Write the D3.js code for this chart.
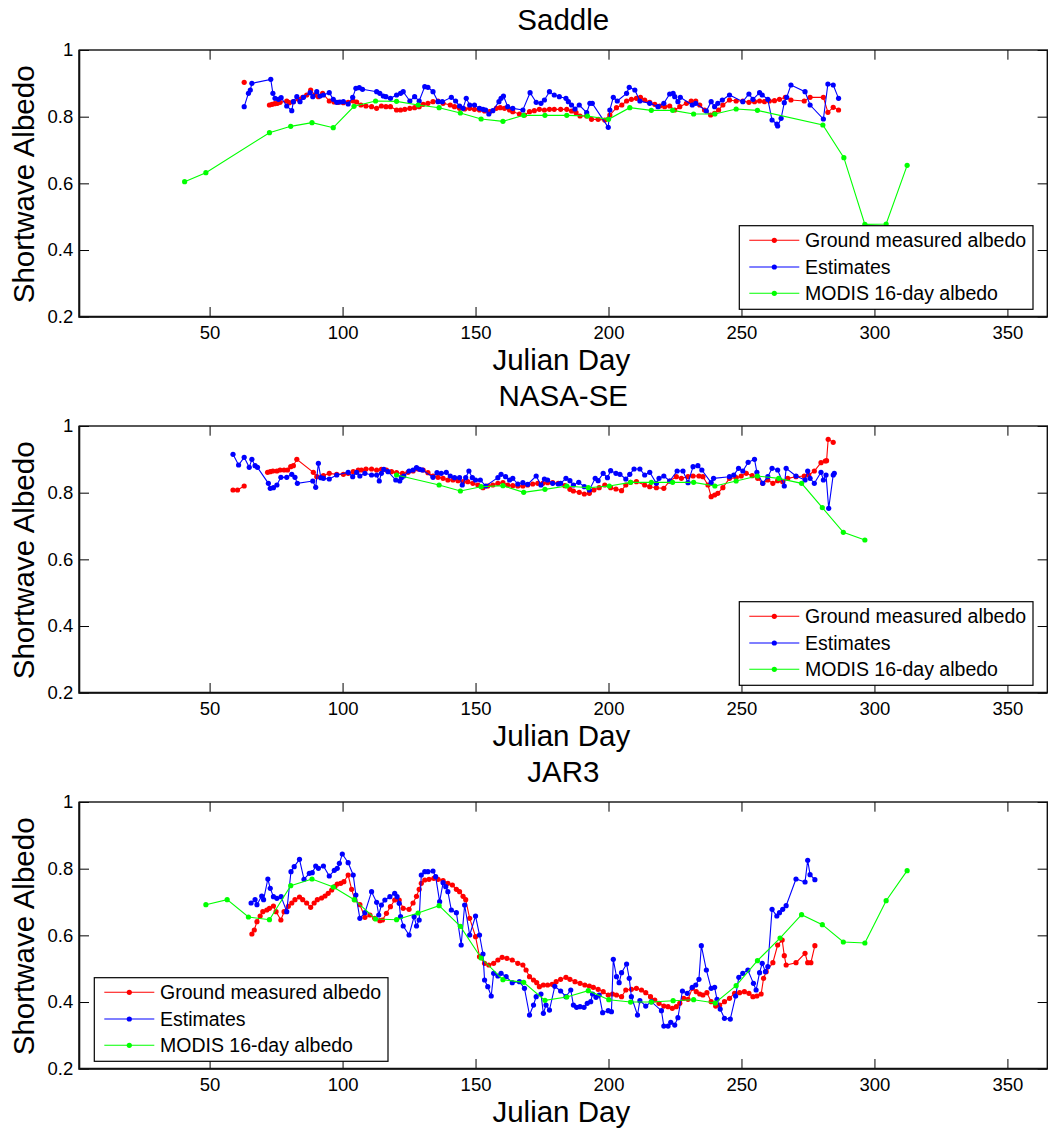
<!DOCTYPE html>
<html>
<head>
<meta charset="utf-8">
<script src="https://cdn.jsdelivr.net/npm/d3@7"></script>
<style>
  body { margin: 0; background: #fff; }
  svg { display: block; font-family: "Liberation Sans", Arial, sans-serif; }
</style>
</head>
<body>
<svg id="chart" width="1048" height="1133"></svg>
<script>
// axis ticks and labels
const dayTicks = [50, 100, 150, 200, 250, 300, 350];
const albedoTicks = [0.2, 0.4, 0.6, 0.8, 1];
const siteNames = ["Saddle", "NASA-SE", "JAR3"];
const seriesNames = ["Ground measured albedo", "Estimates", "MODIS 16-day albedo"];

// Saddle: [julian day, albedo], null = gap
const saddleGround = [[63,0.903],[67,null],
  [72.5,0.835],[73.5,0.837],[74.5,0.839],[75.5,0.84],[76.5,0.843],[79,0.847],[80,0.842],[81.5,0.845],[83.4,0.852],[85,0.858],[86.5,0.865],[88,0.88],[89.6,0.865],[90.9,0.86],[92.5,0.87],[95,0.847],[96.8,0.844],[98.4,0.843],[100.3,0.842],[102.1,0.843],[104,0.847],[105.3,0.844],[106.9,0.835],[108.8,0.832],[110.9,0.83],[112.8,0.825],[114.6,0.832],[116.3,0.83],[118,0.83],[120.3,0.82],[121.8,0.82],[123.4,0.822],[125.3,0.825],[127.1,0.827],[128.8,0.83],[130.3,0.837],[132.1,0.84],[134,0.845],[135.9,0.847],[137.8,0.84],[140.5,0.835],[142.1,0.83],[144,0.825],[145.9,0.823],[147.8,0.825],[149.6,0.822],[151.5,0.82],[153.4,0.817],[155.3,0.815],[157.8,0.825],[159.3,0.827],[160.9,0.825],[162.8,0.82],[164,0.815],[166.5,0.808],[168.4,0.805],[170.3,0.815],[172.1,0.818],[174,0.822],[175.9,0.82],[177.8,0.822],[179.6,0.822],[182,0.822],
  [184.3,0.822],[186.1,0.817],[187.8,0.812],[189.3,0.802],[191.8,0.802],[193.6,0.792],[196.1,0.792],[198.6,0.79],[200.5,0.805],[203,0.827],[205,0.835],[206.8,0.847],[208.6,0.852],[210.5,0.855],[212,0.858],[213.6,0.85],[215.5,0.843],[217.4,0.837],[219.3,0.832],[221.1,0.83],[223,0.832],[224.9,0.82],[226.8,0.83],[229.3,0.84],[231.1,0.847],[232.8,0.847],[234.3,0.835],[236.1,0.82],[238.4,0.805],[239.9,0.81],[241.4,0.82],[243,0.835],[245.5,0.85],[248,0.847],[250.5,0.847],[252.8,0.843],[254.9,0.845],[256.8,0.847],[258.6,0.845],[260.5,0.847],[262.4,0.848],[264.3,0.852],[266.5,0.858],[268.6,0.85],[273.6,0.847],[275.8,0.858],[280.8,0.858],[282.5,0.813],[284.5,0.828],[286.5,0.82]];

const saddleEstimates = [[63,0.83],[64.6,0.87],[65.3,0.88],[65.9,0.9],[73,0.912],[73.8,0.87],[74.6,0.855],[75.9,0.852],[76.9,0.857],[79,0.832],[80.9,0.818],[81.5,0.845],[82.8,0.86],[84,0.845],[85.3,0.858],[87.8,0.872],[88.8,0.86],[90.3,0.875],[91.5,0.862],[92.8,0.865],[95,0.872],[96.5,0.852],[97.8,0.843],[99,0.844],[100.3,0.845],[102.1,0.838],[103.8,0.858],[105,0.885],[106.3,0.887],[107.5,0.882],[112.8,0.875],[114,0.87],[115.3,0.862],[116.3,0.86],[118,0.855],[120.3,0.865],[121.8,0.87],[122.8,0.875],[125.3,0.847],[127.1,0.86],[128.8,0.847],[130.9,0.89],[132.1,0.888],[134,0.875],[135.9,0.845],[137.5,0.845],[140.9,0.858],[142.5,0.847],[144,0.832],[145.3,0.825],[146.5,0.855],[147.8,0.835],[149.6,0.835],[151.5,0.825],[152.8,0.822],[153.8,0.82],[155,0.808],[156.5,0.818],[158.8,0.845],[159.6,0.855],[160.5,0.862],[162.1,0.83],[164,0.825],[167.8,0.82],[170.5,0.872],[172.8,0.843],[174.6,0.84],[175.9,0.85],[177.8,0.875],[179.6,0.865],[181.5,0.86],
  [184,0.855],[184.9,0.845],[186.1,0.835],[187.4,0.823],[189,0.835],[191.8,0.812],[193,0.84],[193.9,0.84],[199.9,0.768],[200.5,0.82],[201.8,0.858],[203.3,0.847],[206.8,0.87],[207.8,0.888],[209.9,0.88],[211.8,0.847],[215.5,0.84],[218.6,0.83],[220.8,0.84],[223,0.868],[224.3,0.87],[224.9,0.86],[226.1,0.845],[227,0.858],[231.5,0.835],[232.8,0.84],[236.8,0.817],[238.6,0.845],[239.9,0.83],[241.1,0.84],[242.8,0.85],[245.5,0.865],[250.5,0.845],[252.8,0.868],[254.3,0.852],[256.8,0.872],[257.8,0.865],[259.9,0.852],[261.5,0.79],[263.3,0.778],[263.6,0.772],[264.9,0.795],[266.1,0.842],[267,0.858],[268.6,0.895],[273.9,0.875],[275.8,0.835],[280.8,0.793],[282.5,0.898],[284.5,0.895],[286.5,0.855]];

const saddleModis = [[40.6,0.605],[48.6,0.632],[72.5,0.752],[80.5,0.771],[88.5,0.782],[96.5,0.767],[104.3,0.831],[112.4,0.847],[120.3,0.846],[128.4,0.835],[136.3,0.827],[144.3,0.811],[152.1,0.793],[160.3,0.786],[168.1,0.804],[176.1,0.804],[184.3,0.804],[192.1,0.802],[200,0.792],[208,0.827],[216.1,0.819],[224.1,0.819],[232,0.808],[240,0.808],[248,0.823],[256,0.819],[280.6,0.775],[288.5,0.677],[296.4,0.477],[304.4,0.478],[312.3,0.654]];

// NASA-SE
const nasaGround = [[58.8,0.808],[60.5,0.808],[63,0.82],[67,null],
  [71.8,0.861],[72.8,0.863],[73.8,0.865],[75.3,0.865],[76.5,0.868],[78,0.868],[79.3,0.868],[80.5,0.878],[81.5,0.881],[82.8,0.9],[89,0.861],[90.3,0.848],[92.8,0.851],[95,0.858],[97.8,0.855],[100.3,0.855],[102.1,0.858],[104,0.863],[105.9,0.868],[107.1,0.868],[108.8,0.871],[110.9,0.871],[112.8,0.868],[114.6,0.87],[116.5,0.868],[118.4,0.863],[120.3,0.86],[122.5,0.858],[124.6,0.861],[126.5,0.865],[128.4,0.871],[130.3,0.868],[132.1,0.86],[134,0.85],[135.9,0.846],[137.8,0.843],[139.6,0.838],[141.5,0.838],[143.4,0.836],[145.3,0.833],[147.1,0.833],[149,0.828],[150.9,0.823],[152.8,0.815],[154.6,0.82],[156.5,0.823],[158.4,0.828],[160.3,0.83],[162.1,0.823],[164,0.821],[165.9,0.82],[167.8,0.82],[169.6,0.823],[171.5,0.826],[173.4,0.828],[175.3,0.828],[177.1,0.83],[179,0.83],[181.1,0.828],[183.6,0.821],[185.5,0.81],[186.8,0.805],[189,0.801],[190.9,0.796],[192.8,0.798],[194.5,0.808],[196.5,0.815],[198.6,0.823],[200.8,0.815],[202.8,0.811],[204.9,0.806],[206.5,0.823],[208.3,0.831],[210.5,0.833],[213.6,0.823],[215.5,0.818],[218,0.815],[220.8,0.813],[223,0.835],[225.5,0.848],[227.4,0.843],[229.9,0.848],[231.8,0.85],[234,0.85],[235.5,0.848],[237.4,0.823],[238.6,0.788],[239.9,0.793],[241.1,0.798],[243,0.815],[245.5,0.843],[248,0.845],[249.9,0.85],[251.8,0.858],[254,0.851],[256.1,0.843],[258,0.828],[259.9,0.838],[261.8,0.828],[263.6,0.836],[265.5,0.833],[267.4,0.843],[270.5,0.848],[273.6,0.85],[275.3,0.853],[277.4,0.865],[279.9,0.89],[281.5,0.895],[282,0.896],[282.6,0.96],[284.5,0.951]];

const nasaEstimates = [[58.8,0.915],[60.9,0.883],[63,0.906],[64.9,0.876],[65.9,0.9],[67.1,0.881],[68,0.876],[72.1,0.828],[72.8,0.813],[74,0.815],[75.3,0.823],[76.8,0.846],[79,0.846],[80.9,0.855],[82.1,0.846],[83,0.828],[88.8,0.835],[89.9,0.816],[90.9,0.888],[91.8,0.845],[92.8,0.843],[95,0.841],[97.8,0.853],[102.1,0.861],[103.8,0.848],[105.3,0.861],[106.5,0.85],[108.4,0.858],[110.9,0.853],[112.8,0.853],[113.8,0.835],[114.6,0.858],[115.5,0.87],[117.1,0.863],[120,0.838],[121.5,0.835],[122.1,0.845],[123,0.85],[125,0.865],[126.5,0.868],[127.8,0.875],[129,0.87],[130,0.868],[134,0.846],[135.5,0.86],[137.1,0.858],[139,0.861],[140.5,0.85],[142.1,0.845],[144,0.845],[145,0.823],[146.3,0.845],[147.5,0.865],[148.8,0.845],[150,0.838],[151.8,0.838],[153.8,0.82],[158.4,0.845],[159.6,0.855],[161.3,0.848],[162.8,0.838],[164,0.843],[165.9,0.826],[167.8,0.83],[169.6,0.825],[172.8,0.85],[174.6,0.823],[175.9,0.841],[177.1,0.838],[179,0.828],[181.1,0.826],[182,0.828],[184,0.843],[185.5,0.836],[186.8,0.823],[188.8,0.831],[190.9,0.818],[192.8,0.808],[195,0.843],[196.1,0.836],[198,0.858],[199.6,0.845],[200.8,0.866],[202.8,0.858],[204.3,0.855],[206.5,0.841],[208,0.855],[209.6,0.871],[211.8,0.871],[213.6,0.853],[215.5,0.861],[218,0.828],[219,0.843],[220.8,0.85],[223,0.835],[225.8,0.865],[228,0.865],[229.9,0.83],[231.8,0.878],[233.6,0.881],[235.1,0.868],[238.6,0.83],[239.5,0.843],[245.5,0.848],[247.1,0.853],[248.9,0.873],[250.5,0.865],[252.5,0.891],[254.9,0.9],[255.8,0.861],[258,0.828],[259.9,0.848],[261.5,0.873],[263.6,0.868],[266.1,0.82],[266.8,0.873],[270.5,0.85],[273.9,0.838],[274.9,0.865],[275.8,0.843],[277.4,0.828],[279.9,0.861],[280.8,0.838],[281.8,0.853],[282.8,0.753],[284.5,0.853],[284.9,0.858]];

const nasaModis = [[120.3,0.853],[136.3,0.823],[144.3,0.805],[152.1,0.818],[160.3,0.821],[168.1,0.801],[176.1,0.81],[184.3,0.82],[192.4,0.815],[200.3,0.82],[208.3,0.831],[216.1,0.831],[224.1,0.831],[232,0.831],[240,0.82],[248,0.835],[256,0.85],[264,0.843],[272.6,0.828],[280.4,0.755],[288.3,0.681],[296.4,0.658]];

// JAR3
const jarGround = [[65.9,0.604],[66.8,0.616],[67.8,0.641],[69,0.658],[70,0.671],[71.5,0.676],[72.5,0.681],[74,0.688],[75,0.671],[76.8,0.646],[78,0.671],[79.6,0.687],[80.9,0.697],[82.1,0.707],[83.8,0.715],[85,0.707],[86.5,0.697],[88,0.684],[89.3,0.697],[90.5,0.707],[92.1,0.712],[93.4,0.718],[94.6,0.726],[95.9,0.736],[97.1,0.746],[98,0.754],[99.3,0.756],[100.5,0.761],[102.1,0.781],[103.4,0.738],[104.6,0.707],[106.5,0.692],[108.4,0.654],[110.3,0.661],[112.1,0.651],[114,0.644],[115,0.646],[116.5,0.666],[118,0.686],[119.6,0.706],[121.3,0.706],[122.8,0.681],[125,0.678],[126.5,0.697],[127.8,0.717],[128.8,0.738],[129.6,0.756],[130.9,0.766],[132.5,0.768],[134.3,0.771],[135.9,0.768],[137.8,0.764],[139.6,0.756],[141.3,0.751],[142.8,0.738],[144,0.731],[145.3,0.717],[146.3,0.707],[147.8,0.651],[150,0.596],[151.5,0.536],[153.4,0.516],[155,0.511],[156.8,0.516],[158.4,0.526],[160,0.534],[161.8,0.531],[163.8,0.526],[165.9,0.516],[167.8,0.511],[169,0.496],[170.3,0.476],[171.8,0.466],[173,0.458],[174,0.446],[175.5,0.451],[177.1,0.451],[178.8,0.453],[180.3,0.461],[182,0.468],[184,0.474],[185.5,0.468],[187.4,0.461],[189.3,0.456],[191.1,0.451],[192.8,0.448],[194.3,0.444],[196.1,0.438],[198,0.431],[199.9,0.421],[201.5,0.424],[203,0.421],[204.9,0.416],[206.5,0.436],[208.6,0.438],[210.5,0.441],[212.4,0.436],[214,0.428],[215.8,0.416],[217.4,0.406],[219,0.396],[220.8,0.388],[222.4,0.386],[224,0.381],[225.5,0.386],[226.8,0.396],[228.3,0.411],[229.9,0.408],[231.5,0.441],[233,0.431],[234.3,0.424],[235.5,0.421],[237,0.428],[238.6,0.401],[240.3,0.388],[241.8,0.391],[243.6,0.401],[245.5,0.411],[247.4,0.426],[249.3,0.428],[251.1,0.431],[252.8,0.426],[254.3,0.416],[255.8,0.418],[257.4,0.424],[258.3,0.471],[259.3,0.491],[261.8,0.518],[263.6,0.571],[265.3,0.586],[266.1,0.539],[266.8,0.511],[270.5,0.518],[273.9,0.546],[274.9,0.518],[276.1,0.518],[277.6,0.569]];

const jarEstimates = [[65.6,0.697],[67.1,0.707],[67.8,0.692],[69.6,0.718],[70.3,0.707],[71.9,0.769],[72.8,0.741],[74,0.716],[75.3,0.711],[76.9,0.716],[79,0.671],[80.6,0.791],[81.8,0.806],[83.8,0.828],[85.5,0.768],[87.5,0.786],[88.6,0.788],[89.9,0.808],[90.9,0.801],[92.8,0.808],[95,0.778],[96.9,0.795],[98,0.801],[98.8,0.816],[99.9,0.844],[102.1,0.818],[104,0.781],[105,0.721],[106.5,0.651],[108.4,0.668],[110.9,0.731],[112.8,0.699],[113.6,0.661],[114.6,0.691],[115.9,0.706],[117.8,0.716],[119.6,0.726],[120.5,0.716],[121.3,0.696],[121.8,0.656],[122.8,0.628],[125,0.601],[126.9,0.656],[127.8,0.628],[128.8,0.646],[129.6,0.781],[130.9,0.791],[132.1,0.791],[134,0.793],[135,0.776],[136.5,0.701],[137.8,0.758],[138.8,0.746],[139.6,0.731],[140.9,0.676],[142.8,0.668],[144.6,0.571],[145.9,0.691],[147.8,0.601],[150,0.658],[151.5,0.601],[152.8,0.544],[153.4,0.466],[154.6,0.446],[155.9,0.418],[156.8,0.486],[158.4,0.478],[159.6,0.486],[161.5,0.476],[163.8,0.458],[166.5,0.461],[168.4,0.441],[170.3,0.361],[171.8,0.391],[172.8,0.416],[174.6,0.424],[175.5,0.366],[176.5,0.391],[177.8,0.376],[179.8,0.447],[182,0.433],[184,0.416],[185.8,0.436],[186.8,0.391],[188,0.384],[189.3,0.386],[190.8,0.384],[192,0.396],[193.3,0.401],[194,0.424],[195.3,0.414],[196.5,0.421],[197.8,0.368],[199.9,0.374],[201.1,0.371],[201.8,0.528],[203,0.476],[204,0.458],[204.9,0.488],[206.8,0.514],[207.8,0.471],[208.6,0.416],[210.9,0.361],[211.8,0.404],[214,0.388],[216.1,0.401],[219.9,0.374],[220.8,0.328],[222.4,0.328],[223.4,0.339],[224.9,0.331],[226.1,0.353],[227.8,0.433],[229.6,0.426],[231.5,0.444],[232.8,0.451],[234,0.468],[234.9,0.569],[236.8,0.496],[238.6,0.441],[239.9,0.444],[240.8,0.408],[242,0.379],[243.6,0.351],[245.8,0.349],[247.8,0.418],[249,0.474],[250.5,0.486],[252.4,0.496],[254.5,0.456],[255.5,0.436],[256.8,0.488],[257.8,0.516],[259,0.491],[259.9,0.506],[261.5,0.678],[263.3,0.658],[264.3,0.668],[265.5,0.678],[266.8,0.689],[270.5,0.769],[273.9,0.76],[274.9,0.825],[275.8,0.782],[277.6,0.767]];

const jarModis = [[48.6,0.692],[56.6,0.707],[64.6,0.655],[72.5,0.647],[80.5,0.749],[88.5,0.769],[96.5,0.745],[104.4,0.707],[112.4,0.649],[120.3,0.647],[128.4,0.667],[136.3,0.689],[144.3,0.627],[152.1,0.532],[160.3,0.467],[168.1,0.459],[176.1,0.405],[184.3,0.415],[192.4,0.434],[200.1,0.407],[208.3,0.4],[216.1,0.4],[224.3,0.404],[232,0.407],[240.1,0.397],[248,0.449],[256,0.524],[264.5,0.592],[272.6,0.662],[280.4,0.632],[288.3,0.58],[296.4,0.577],[304.4,0.704],[312.3,0.794]];

const colors = ["#ff0000", "#0000ff", "#00ff00"];

// panel layout
const panels = [
  { title: siteNames[0], series: [saddleGround, saddleEstimates, saddleModis], top: 50,  legend: [739.3, 225.7] },
  { title: siteNames[1], series: [nasaGround, nasaEstimates, nasaModis],       top: 426, legend: [739.3, 601.7] },
  { title: siteNames[2], series: [jarGround, jarEstimates, jarModis],          top: 802, legend: [94.3, 977.7] }
];
const left = 79.3, right = 1047.3, plotH = 266.7, tickLen = 9.7;

const svg = d3.select("#chart");
const x = d3.scaleLinear().domain([1, 365]).range([left, right]);

panels.forEach(p => {
  const y = d3.scaleLinear().domain([0.2, 1]).range([p.top + plotH, p.top]);
  const g = svg.append("g");

  // series: red, blue, green (green drawn last like the original)
  p.series.forEach((s, i) => {
    const line = d3.line()
      .defined(d => d[1] !== null)
      .x(d => x(d[0]))
      .y(d => y(d[1]));
    g.append("path")
      .datum(s)
      .attr("d", line)
      .attr("fill", "none")
      .attr("stroke", colors[i])
      .attr("stroke-width", 1.1);
    g.selectAll(null)
      .data(s.filter(d => d[1] !== null))
      .enter().append("circle")
      .attr("cx", d => x(d[0]))
      .attr("cy", d => y(d[1]))
      .attr("r", 2.6)
      .attr("fill", colors[i]);
  });

  // axes with inward ticks on all four sides
  const bottom = g.append("g")
    .attr("transform", `translate(0,${p.top + plotH})`)
    .call(d3.axisBottom(x).tickValues(dayTicks).tickSize(-tickLen).tickSizeOuter(0).tickPadding(9.5));
  const topAx = g.append("g")
    .attr("transform", `translate(0,${p.top})`)
    .call(d3.axisTop(x).tickValues(dayTicks).tickSize(-tickLen).tickSizeOuter(0));
  const leftAx = g.append("g")
    .attr("transform", `translate(${left},0)`)
    .call(d3.axisLeft(y).tickValues(albedoTicks).tickSize(-tickLen).tickSizeOuter(0).tickPadding(6).tickFormat(d3.format("")));
  const rightAx = g.append("g")
    .attr("transform", `translate(${right},0)`)
    .call(d3.axisRight(y).tickValues(albedoTicks).tickSize(-tickLen).tickSizeOuter(0));
  [topAx, rightAx].forEach(a => a.selectAll("text").remove());
  [bottom, topAx, leftAx, rightAx].forEach(a => {
    a.select(".domain").remove();
    a.selectAll("line").attr("stroke", "#000").attr("stroke-width", 1);
    a.selectAll("text").attr("fill", "#000").style("font-size", "18.5px")
      .style("font-family", "'Liberation Sans', Arial, sans-serif");
  });

  // frame
  g.append("rect")
    .attr("x", left).attr("y", p.top)
    .attr("width", right - left).attr("height", plotH)
    .attr("fill", "none").attr("stroke", "#111").attr("stroke-width", 1.4);
  g.append("path")
    .attr("d", `M${left},${p.top}V${p.top + plotH}H${right}`)
    .attr("fill", "none").attr("stroke", "#111").attr("stroke-width", 2);

  // titles and labels
  g.append("text")
    .attr("x", (left + right) / 2).attr("y", p.top - 20)
    .attr("text-anchor", "middle").style("font-size", "29.5px")
    .text(p.title);
  g.append("text")
    .attr("x", (left + right) / 2 - 2).attr("y", p.top + plotH + 53)
    .attr("text-anchor", "middle").style("font-size", "29.5px")
    .text("Julian Day");
  g.append("text")
    .attr("transform", `translate(34,${p.top + plotH / 2 + 1}) rotate(-90)`)
    .attr("text-anchor", "middle").style("font-size", "29.5px")
    .text("Shortwave Albedo");

  // legend
  const [lx, ly] = p.legend;
  const lg = g.append("g").attr("transform", `translate(${lx},${ly})`);
  lg.append("rect")
    .attr("width", 293.7).attr("height", 83.6)
    .attr("fill", "#fff").attr("stroke", "#000").attr("stroke-width", 1.2);
  const rows = [14.6, 41.3, 67.6];
  seriesNames.forEach((name, i) => {
    lg.append("line")
      .attr("x1", 10).attr("x2", 60).attr("y1", rows[i]).attr("y2", rows[i])
      .attr("stroke", colors[i]).attr("stroke-width", 1.1);
    lg.append("circle")
      .attr("cx", 35).attr("cy", rows[i]).attr("r", 2.6).attr("fill", colors[i]);
    lg.append("text")
      .attr("x", 65.7).attr("y", rows[i]).attr("dy", "0.36em")
      .style("font-size", "19.5px")
      .text(name);
  });
});
</script>
</body>
</html>
